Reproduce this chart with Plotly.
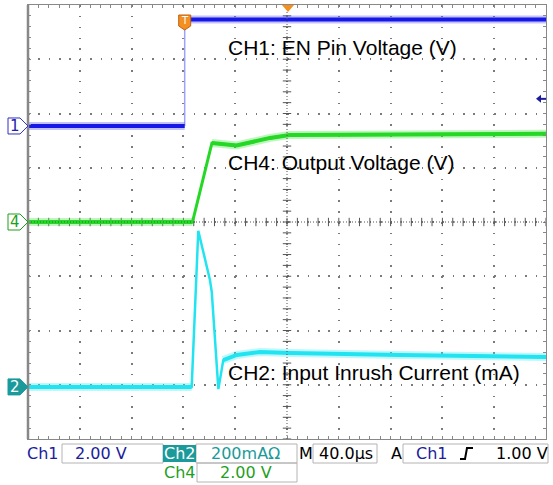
import plotly.graph_objects as go

# scope settings: 40 us/div, trigger point at screen centre
CH1_SCALE, CH1_GND = 2.0, 5.77      # V/div, ground marker (divisions from bottom)
CH2_SCALE, CH2_GND = 200.0, 0.96    # mA/div
CH4_SCALE, CH4_GND = 2.0, 4.0       # V/div
TRIG_LEVEL = 1.0                    # V on Ch1

# CH1: EN pin (V)
time_ch1 = [-200, -79, -79, 200]
ch1_volts = [0.0, 0.0, 3.93, 3.93]

# CH4: output voltage (V)
time_ch4 = [-200, -73, -58, -39, -13, 2, 200]
ch4_volts = [0.0, 0.0, 2.91, 2.82, 3.10, 3.21, 3.25]

# CH2: input inrush current (mA)
time_ch2 = [-200, -73.6, -68.5, -64.6, -59.5, -58.1, -53.0, -49.2, -38.8, -20.8, 2.3, 87, 200]
ch2_ma = [0, 0, 576, 494, 394, 350, -8, 99, 118, 129, 125, 118, 110]

BLUE, GREEN, CYAN, TEAL = "#1818e6", "#26d826", "#22e4f0", "#1a9a9a"
NAVY, DKGREEN, GRID = "#1c1c9c", "#1f9f1f", "#7a7a7a"


def to_div(vals, scale, gnd):
    return [gnd + v / scale for v in vals]


def px(x):  # screen pixel -> paper x
    return (x - 28) / 518


def py(y):  # screen pixel -> paper y
    return (439 - y) / 434


ch1 = to_div(ch1_volts, CH1_SCALE, CH1_GND)
ch4 = to_div(ch4_volts, CH4_SCALE, CH4_GND)
ch2 = to_div(ch2_ma, CH2_SCALE, CH2_GND)

fig = go.Figure()


def trace(t, v, color, width):
    fig.add_trace(go.Scatter(x=t, y=v, mode="lines", line=dict(color=color, width=width),
                             hoverinfo="skip", showlegend=False))


# centre graticule ticks
ticks_t = [-200 + 8 * i for i in range(51)]
ticks_d = [0.2 * i for i in range(41)]
fig.add_trace(go.Scatter(x=ticks_t, y=[4] * len(ticks_t), mode="markers", hoverinfo="skip",
                         marker=dict(symbol="line-ns", size=6, line=dict(width=1, color="#555")),
                         showlegend=False))
fig.add_trace(go.Scatter(x=[0] * len(ticks_d), y=ticks_d, mode="markers", hoverinfo="skip",
                         marker=dict(symbol="line-ew", size=6, line=dict(width=1, color="#555")),
                         showlegend=False))

# CH2 cyan
trace(time_ch2[:2], ch2[:2], "rgba(70,235,250,0.35)", 8)
trace(time_ch2[7:], ch2[7:], "rgba(70,235,250,0.35)", 8)
trace(time_ch2, ch2, CYAN, 2.5)
trace(time_ch2[:2], ch2[:2], CYAN, 4)
trace(time_ch2[7:], ch2[7:], CYAN, 4)

# CH4 green
trace(time_ch4[:2], ch4[:2], "rgba(70,230,70,0.35)", 8)
trace(time_ch4[2:], ch4[2:], "rgba(70,230,70,0.35)", 8)
trace(time_ch4, ch4, GREEN, 3)
trace(time_ch4[:2], ch4[:2], GREEN, 4)
trace(time_ch4[2:], ch4[2:], GREEN, 4)

# CH1 blue
trace(time_ch1[1:3], ch1[1:3], "#a0a0ff", 1.5)
for seg in (slice(0, 2), slice(2, 4)):
    trace(time_ch1[seg], ch1[seg], "rgba(80,80,255,0.35)", 8)
    trace(time_ch1[seg], ch1[seg], BLUE, 4)

shapes = []
# centre lines, denser dots
shapes.append(dict(type="line", xref="x", yref="y", x0=-200, x1=200, y0=4, y1=4,
                   line=dict(color="#555", width=1, dash="1px,2px")))
shapes.append(dict(type="line", xref="x", yref="y", x0=0, x1=0, y0=0, y1=8,
                   line=dict(color="#555", width=1, dash="1px,2px")))
# heavier left frame edge
shapes.append(dict(type="line", xref="paper", yref="paper", x0=0, x1=0, y0=0, y1=1,
                   line=dict(color="#888", width=2.5)))

annotations = []

# channel ground markers
for label, gnd, edge, fill, txt in [("1", CH1_GND, "#3030c0", "white", "#2020b0"),
                                    ("4", CH4_GND, DKGREEN, "white", DKGREEN),
                                    ("2", CH2_GND, TEAL, TEAL, "white")]:
    yc, h = gnd / 8, 8 / 434
    x0, x1, x2 = px(8), px(20), px(28)
    shapes.append(dict(type="path", xref="paper", yref="paper", fillcolor=fill,
                       line=dict(color=edge, width=1),
                       path=f"M{x0},{yc - h} L{x1},{yc - h} L{x2},{yc} L{x1},{yc + h} L{x0},{yc + h} Z"))
    annotations.append(dict(text=label, x=px(15), y=yc, xref="paper", yref="paper",
                            xanchor="center", yanchor="middle", showarrow=False,
                            font=dict(family="DejaVu Sans", size=15, color=txt)))

# trigger position marker (top centre)
shapes.append(dict(type="path", xref="paper", yref="paper", fillcolor="#f39020", line=dict(width=0),
                   path=f"M{px(282)},{py(5)} L{px(294)},{py(5)} L{px(288)},{py(12)} Z"))
# trigger 'T' marker at the edge
tt = (time_ch1[1] + 200) / 400
dx = 6 / 518
shapes.append(dict(type="path", xref="paper", yref="paper", fillcolor="#f39020",
                   line=dict(color="#c06010", width=1),
                   path=f"M{tt - dx},{py(15)} L{tt + dx},{py(15)} L{tt + dx},{py(26)} "
                        f"L{tt},{py(30)} L{tt - dx},{py(26)} Z"))
annotations.append(dict(text="T", x=tt, y=py(21), xref="paper", yref="paper", showarrow=False,
                        xanchor="center", yanchor="middle",
                        font=dict(family="DejaVu Sans", size=10, color="white")))
# trigger level arrow (right edge)
yl = (CH1_GND + TRIG_LEVEL / CH1_SCALE) / 8
shapes.append(dict(type="path", xref="paper", yref="paper", fillcolor=NAVY, line=dict(width=0),
                   path=f"M{px(536)},{yl} L{px(541)},{yl + 4 / 434} L{px(541)},{yl - 4 / 434} Z"))
shapes.append(dict(type="line", xref="paper", yref="paper", x0=px(540), x1=px(546), y0=yl, y1=yl,
                   line=dict(color=NAVY, width=2)))

# channel labels
for text, y in [("CH1: EN Pin Voltage (V)", 48), ("CH4: Output Voltage (V)", 162),
                ("CH2: Input Inrush Current (mA)", 372.5)]:
    annotations.append(dict(text=text, x=px(226), y=py(y), xref="paper", yref="paper",
                            xanchor="left", yanchor="middle", showarrow=False,
                            font=dict(family="Liberation Sans", size=21, color="black")))

# readout boxes
BOX = "#b4b4b4"
for x0, x1, y0, y1 in [(62, 163, 444, 463), (196, 297, 444, 463), (197, 297, 463, 482),
                       (313, 377, 444, 463), (403, 548, 444, 463)]:
    shapes.append(dict(type="rect", xref="paper", yref="paper", x0=px(x0), x1=px(x1),
                       y0=py(y0), y1=py(y1), line=dict(color=BOX, width=1)))
shapes.append(dict(type="rect", xref="paper", yref="paper", x0=px(163), x1=px(196),
                   y0=py(445), y1=py(462), fillcolor=TEAL, line=dict(width=0)))
# rising-edge trigger symbol
shapes.append(dict(type="path", xref="paper", yref="paper", line=dict(color="black", width=2),
                   path=f"M{px(460)},{py(459)} L{px(465)},{py(459)} L{px(467)},{py(448)} L{px(473)},{py(448)}"))

for text, x, y, color in [("Ch1", 43, 453.5, NAVY), ("2.00 V", 101, 453.5, NAVY),
                          ("Ch2", 179.5, 453.5, "white"), ("200mAΩ", 245, 453.5, TEAL),
                          ("M", 306, 453.5, "black"), ("40.0µs", 346, 453.5, "black"),
                          ("A", 396, 453.5, "black"), ("Ch1", 432, 453.5, NAVY),
                          ("1.00 V", 522, 453.5, "black"),
                          ("Ch4", 180, 472.5, DKGREEN), ("2.00 V", 246, 472.5, DKGREEN)]:
    annotations.append(dict(text=text, x=px(x), y=py(y), xref="paper", yref="paper",
                            showarrow=False, xanchor="center", yanchor="middle",
                            font=dict(family="DejaVu Sans", size=16, color=color)))

axis_common = dict(showticklabels=False, zeroline=False, showline=True, linecolor="#888",
                   linewidth=1, mirror="allticks", ticks="inside", ticklen=3, tickcolor="#888",
                   showgrid=True, gridcolor=GRID, gridwidth=1.5)

fig.update_layout(
    width=553, height=485,
    margin=dict(l=28, r=7, t=5, b=46),
    paper_bgcolor="white", plot_bgcolor="white",
    xaxis=dict(range=[-200, 200], dtick=40, griddash="1.5px,9.35px",
               minor=dict(dtick=8, ticks="inside", ticklen=3, tickcolor="#888"), **axis_common),
    yaxis=dict(range=[0, 8], dtick=1, griddash="1.5px,8.86px",
               minor=dict(dtick=0.2, ticks="inside", ticklen=3, tickcolor="#888"), **axis_common),
    shapes=shapes,
    annotations=annotations,
    showlegend=False,
)

fig.write_html("out.html", config={"displayModeBar": False},
               post_script="document.body.style.margin='0';")
